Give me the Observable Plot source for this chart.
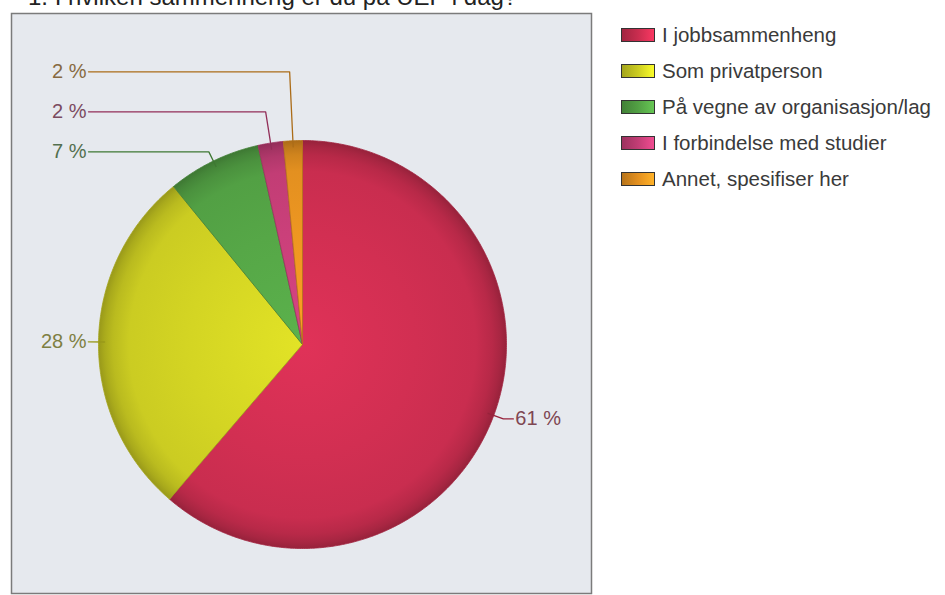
<!DOCTYPE html>
<html>
<head>
<meta charset="utf-8">
<script src="https://cdn.jsdelivr.net/npm/d3@7"></script>
<script src="https://cdn.jsdelivr.net/npm/@observablehq/plot@0.6"></script>
<style>
  body { margin: 0; background: #fff; font-family: "Liberation Sans", Arial, sans-serif; }
  #wrap { position: relative; width: 945px; height: 595px; overflow: hidden; }
  #title { position: absolute; left: 28px; top: -15px; font-size: 24px; line-height: 24px; color: #222; white-space: nowrap; }
  #chart { position: absolute; left: 0; top: 0; }
  #legend { position: absolute; left: 621px; top: 17px; }
  .row { display: flex; align-items: center; height: 36px; }
  .sw { width: 32px; height: 12px; border: 1.5px solid #333; margin-right: 7px; }
  .lt { font-size: 20.5px; color: #3a3a3a; white-space: nowrap; }
</style>
</head>
<body>
<div id="wrap">
  <div id="chart"></div>
  <div id="title">1. I hvilken sammenheng er du på UEP i dag?</div>
  <div id="legend"></div>
</div>
<script>
// ---- data ----
const categories = ["I jobbsammenheng", "Som privatperson", "På vegne av organisasjon/lag", "I forbindelse med studier", "Annet, spesifiser her"];
const shares = [61.3, 27.8, 7.4, 2.0, 1.5];
const colors = ["#c92d4f", "#cbcc22", "#52a044", "#c23d75", "#e39020"];

// ---- layout ----
const W = 945, H = 595;
const frameL = 11, frameT = 13, frameR = 591, frameB = 593;
const cx = 302, cy = 344, R = 204;       // pie centre / radius in px
const px = v => v / R;                   // px -> radius units
const leftTextX = px(86 - cx), leftLineX = px(88 - cx);
const spacing = px(40);

const pie = d3.pie().sort(null).value(d => d)(shares);
const pt = (a, r) => ({x: r * Math.sin(a), y: r * Math.cos(a)});

// slice polygons
const slicePts = pie.map((p, i) => {
  const pts = [{x: 0, y: 0}];
  const n = Math.max(4, Math.ceil((p.endAngle - p.startAngle) / (Math.PI / 360)));
  for (let k = 0; k <= n; k++) pts.push(pt(p.startAngle + (p.endAngle - p.startAngle) * k / n, 1));
  pts.push({x: 0, y: 0});
  return pts;
});

// labels with leader lines
const lab = pie.map((p, i) => {
  const m = (p.startAngle + p.endAngle) / 2;
  const side = Math.sin(m) >= 0 ? 1 : -1;
  return {i, m, side, anchor: pt(m, 0.97), natural: pt(m, 1.05), text: Math.round(shares[i]) + " %"};
});
const leftLabs = lab.filter(d => d.side < 0).sort((a, b) => a.natural.y - b.natural.y);
let prev = -Infinity;
for (const d of leftLabs) { d.ly = Math.max(d.natural.y, prev + spacing); prev = d.ly; }
for (const d of lab.filter(d => d.side > 0)) d.ly = d.natural.y;
for (const d of lab) {
  if (Math.abs(d.ly - d.natural.y) < 1e-9 || Math.cos(d.m) <= 0) d.elbow = d.natural;
  else { const r = d.ly / Math.cos(d.m); d.elbow = pt(d.m, r); }
  d.end = d.side < 0 ? {x: leftLineX, y: d.ly} : {x: d.elbow.x + px(10), y: d.ly};
  d.tx = d.side < 0 ? leftTextX : d.elbow.x + px(12);
}
const leaderPts = lab.flatMap(d => [d.anchor, d.elbow, d.end].map(p => ({...p, k: d.i})));

const dark = c => d3.color(c).darker(0.8).formatHex();
const textCol = c => d3.interpolateRgb(d3.color(c).darker(1.2), "#777")(0.45);

const marks = [Plot.frame({fill: "#e6e9ee", stroke: "#7b7b7b", strokeWidth: 1.5})];
slicePts.forEach((pts, i) => {
  marks.push(Plot.line(pts, {x: "x", y: "y", fill: `url(#grad${i})`, stroke: d3.color(colors[i]).darker(0.6).formatHex(), strokeWidth: 0.8, curve: "linear"}));
});
lab.forEach(d => {
  marks.push(Plot.line(leaderPts.filter(p => p.k === d.i), {x: "x", y: "y", stroke: dark(colors[d.i]), strokeWidth: 1.3, curve: "linear"}));
});
lab.forEach(d => {
  marks.push(Plot.text([d], {x: "tx", y: "ly", text: "text", textAnchor: d.side < 0 ? "end" : "start", fill: textCol(colors[d.i]), fontSize: 20}));
});

const chart = Plot.plot({
  width: W, height: H,
  marginLeft: frameL, marginTop: frameT, marginRight: W - frameR, marginBottom: H - frameB,
  x: {domain: [px(frameL - cx), px(frameR - cx)], axis: null},
  y: {domain: [px(cy - frameB), px(cy - frameT)], axis: null},
  style: {fontFamily: "Liberation Sans, Arial, sans-serif", fontSize: "20px", background: "transparent", overflow: "visible"},
  marks
});

// gradients
const xs = chart.scale("x"), ys = chart.scale("y");
const gx = xs.apply(0), gy = ys.apply(0), gr = xs.apply(1) - xs.apply(0);
const svg = d3.select(chart.tagName === "svg" ? chart : chart.querySelector("svg"));
const defs = svg.insert("defs", ":first-child");
colors.forEach((c, i) => {
  const g = defs.append("radialGradient").attr("id", `grad${i}`).attr("gradientUnits", "userSpaceOnUse")
    .attr("cx", gx).attr("cy", gy).attr("r", gr).attr("fx", gx).attr("fy", gy);
  const col = d3.color(c);
  [[0, col.brighter(0.3)], [0.55, col.brighter(0.12)], [0.85, col], [0.93, col.darker(0.25)], [0.97, col.darker(0.5)], [1, col.darker(0.8)]]
    .forEach(([o, cc]) => g.append("stop").attr("offset", o).attr("stop-color", cc.formatHex()));
});
document.getElementById("chart").appendChild(chart);

// legend
const leg = d3.select("#legend");
categories.forEach((name, i) => {
  const c = d3.color(colors[i]);
  const row = leg.append("div").attr("class", "row");
  row.append("div").attr("class", "sw")
    .style("background", `linear-gradient(to right, ${c.darker(0.6).formatHex()}, ${c.formatHex()} 50%, ${c.brighter(0.6).formatHex()})`);
  row.append("div").attr("class", "lt").text(name);
});
</script>
</body>
</html>
